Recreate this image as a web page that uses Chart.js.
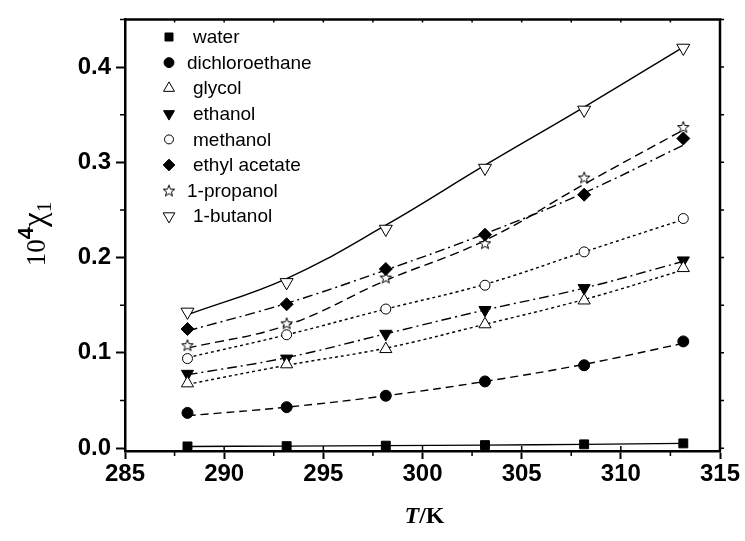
<!DOCTYPE html>
<html>
<head>
<meta charset="utf-8">
<script src="https://cdn.jsdelivr.net/npm/chart.js@4.4.1/dist/chart.umd.min.js"></script>
<style>
  html, body { margin: 0; padding: 0; background: #fff; }
  canvas { display: block; }
</style>
</head>
<body>
<canvas id="chart" width="745" height="541"></canvas>
<script>
// valores (x = T/K, y = 10^4 x1)
const temps = [288.15, 293.15, 298.15, 303.15, 308.15, 313.15];
const water = [0.0018, 0.0021, 0.0026, 0.0032, 0.0040, 0.0050];
const dichloroethane = [0.037, 0.043, 0.055, 0.070, 0.087, 0.112];
const glycol = [0.068, 0.088, 0.104, 0.130, 0.155, 0.189];
const ethanol = [0.078, 0.094, 0.120, 0.145, 0.168, 0.197];
const methanol = [0.094, 0.119, 0.146, 0.171, 0.206, 0.241];
const ethylAcetate = [0.125, 0.151, 0.188, 0.224, 0.266, 0.325];
const propanol = [0.108, 0.131, 0.179, 0.215, 0.284, 0.337];
const butanol = [0.143, 0.174, 0.230, 0.294, 0.355, 0.420];

const waterFit = [0.0018, 0.0021, 0.0026, 0.0032, 0.0040, 0.0050];
const dichloroethaneFit = [0.034, 0.043, 0.055, 0.070, 0.088, 0.110];
const glycolFit = [0.067, 0.087, 0.105, 0.130, 0.156, 0.187];
const ethanolFit = [0.077, 0.095, 0.120, 0.145, 0.168, 0.196];
const methanolFit = [0.095, 0.119, 0.146, 0.172, 0.206, 0.240];
const ethylAcetateFit = [0.123, 0.152, 0.187, 0.225, 0.268, 0.318];
const propanolFit = [0.105, 0.129, 0.176, 0.218, 0.277, 0.334];
const butanolFit = [0.140, 0.178, 0.234, 0.297, 0.358, 0.421];

const names = ['water', 'dichloroethane', 'glycol', 'ethanol', 'methanol', 'ethyl acetate', '1-propanol', '1-butanol'];
const xTicks = [285, 290, 295, 300, 305, 310, 315];
const yTicks = [0.0, 0.1, 0.2, 0.3, 0.4];

// estrela vazada (Chart.js nao tem estrela de 5 pontas)
function starImage(size) {
    const c = document.createElement('canvas');
    c.width = c.height = size;
    const g = c.getContext('2d');
    const cx = size / 2, cy = size / 2 + 0.5, R = size / 2 - 1, r = R * 0.42;
    g.beginPath();
    for (let i = 0; i < 10; i++) {
        const a = -Math.PI / 2 + i * Math.PI / 5;
        const rr = i % 2 ? r : R;
        g.lineTo(cx + rr * Math.cos(a), cy + rr * Math.sin(a));
    }
    g.closePath();
    g.fillStyle = '#fff';
    g.fill();
    g.strokeStyle = '#000';
    g.lineWidth = 1;
    g.stroke();
    return c;
}
const star = starImage(14);

const series = [water, dichloroethane, glycol, ethanol, methanol, ethylAcetate, propanol, butanol];
const fits = [waterFit, dichloroethaneFit, glycolFit, ethanolFit, methanolFit, ethylAcetateFit, propanolFit, butanolFit];
const estilos = [
    { style: 'rect', r: 6.3, rot: 0, fill: '#000', dash: [] },
    { style: 'circle', r: 5.5, rot: 0, fill: '#000', dash: [8, 5] },
    { style: 'triangle', r: 7, rot: 0, fill: '#fff', dash: [3, 3] },
    { style: 'triangle', r: 7, rot: 180, fill: '#000', dash: [10, 4, 2, 4] },
    { style: 'circle', r: 5, rot: 0, fill: '#fff', dash: [3, 3] },
    { style: 'rectRot', r: 6.5, rot: 0, fill: '#000', dash: [10, 4, 2, 4] },
    { style: star, r: 7, rot: 0, fill: '#fff', dash: [9, 5] },
    { style: 'triangle', r: 7.5, rot: 180, fill: '#fff', dash: [] }
];

const pontos = series.map((vals, i) => {
    const e = estilos[i];
    return {
        label: names[i],
        data: temps.map((t, k) => ({ x: t, y: vals[k] })),
        showLine: false,
        order: 0,
        pointStyle: e.style,
        pointRadius: e.r,
        pointHoverRadius: e.r,
        pointRotation: e.rot,
        pointBackgroundColor: e.fill,
        pointBorderColor: '#000',
        pointBorderWidth: 1
    };
});

const curvas = fits.map((vals, i) => ({
    label: names[i] + ' fit',
    data: temps.map((t, k) => ({ x: t, y: vals[k] })),
    order: 1,
    borderColor: '#000',
    borderWidth: 1.4,
    borderDash: estilos[i].dash,
    tension: 0.4,
    fill: false,
    pointRadius: 0,
    pointHoverRadius: 0
}));

// moldura, ticks menores, legenda e titulos dos eixos
const decor = {
    id: 'decor',
    afterDraw(chart) {
        const { ctx, chartArea: a, scales: { x, y } } = chart;
        ctx.save();
        ctx.strokeStyle = '#000';
        ctx.fillStyle = '#000';

        ctx.lineWidth = 2.5;
        ctx.beginPath();
        ctx.moveTo(a.left, a.top);
        ctx.lineTo(a.right, a.top);
        ctx.lineTo(a.right, a.bottom);
        ctx.stroke();

        ctx.lineWidth = 1.5;
        ctx.beginPath();
        for (let v = 0.05; v < 0.45; v += 0.1) {
            const py = y.getPixelForValue(v);
            ctx.moveTo(a.left, py); ctx.lineTo(a.left - 5, py);
        }
        for (let v = 0; v < 0.45; v += 0.05) {
            const py = y.getPixelForValue(v);
            ctx.moveTo(a.right, py); ctx.lineTo(a.right + 4, py);
        }
        for (let t = 287.5; t < 315; t += 5) {
            const px = x.getPixelForValue(t);
            ctx.moveTo(px, a.bottom); ctx.lineTo(px, a.bottom + 5);
        }
        for (let t = 287.5; t < 315; t += 2.5) {
            const px = x.getPixelForValue(t);
            ctx.moveTo(px, a.top); ctx.lineTo(px, a.top + 3);
        }
        xTicks.forEach(t => {
            const px = x.getPixelForValue(t);
            ctx.moveTo(px, a.bottom); ctx.lineTo(px, a.bottom - 5);
        });
        ctx.stroke();

        // legenda dentro da area do grafico (so os marcadores)
        ctx.textBaseline = 'middle';
        ctx.textAlign = 'left';
        pontos.forEach((ds, i) => {
            const ly = 37 + i * 25.6;
            ctx.setLineDash([]);
            ctx.fillStyle = ds.pointBackgroundColor;
            ctx.strokeStyle = '#000';
            ctx.lineWidth = 1;
            Chart.helpers.drawPoint(ctx, {
                pointStyle: ds.pointStyle,
                radius: ds.pointRadius * 0.9,
                rotation: ds.pointRotation,
                borderWidth: 1
            }, 169, ly);
            ctx.fillStyle = '#000';
            ctx.font = '19px "Liberation Sans", Arial, sans-serif';
            const indent = (ds.label === 'dichloroethane' || ds.label === '1-propanol') ? 0 : 6;
            ctx.fillText(ds.label, 187 + indent, ly + 1);
        });

        // titulo do eixo x: T/K
        ctx.textBaseline = 'alphabetic';
        const f1 = 'italic bold 24px "Liberation Serif", "Times New Roman", serif';
        const f2 = 'bold 24px "Liberation Serif", "Times New Roman", serif';
        ctx.font = f1; const wT = ctx.measureText('T').width;
        ctx.font = f2; const wK = ctx.measureText('/K').width;
        let sx = (a.left + a.right) / 2 + 2 - (wT + wK) / 2;
        ctx.font = f1; ctx.fillText('T', sx, 523);
        ctx.font = f2; ctx.fillText('/K', sx + wT, 523);

        // titulo do eixo y: 10^4 x1
        ctx.translate(36, 234);
        ctx.rotate(-Math.PI / 2);
        const partes = [
            { t: '10', f: '27px "Liberation Serif", "Times New Roman", serif', dy: 0 },
            { t: '4', f: 'bold 22px "Liberation Sans", Arial, sans-serif', dy: -12 },
            { t: 'χ', f: '33px "Liberation Serif", "Times New Roman", serif', dy: 0 },
            { t: '1', f: '21px "Liberation Serif", "Times New Roman", serif', dy: 6 }
        ];
        let total = 0;
        partes.forEach(p => { ctx.font = p.f; p.w = ctx.measureText(p.t).width; total += p.w; });
        let cx = -total / 2;
        partes.forEach(p => {
            ctx.font = p.f;
            ctx.fillText(p.t, cx, 9 + p.dy);
            cx += p.w;
        });
        ctx.restore();
    }
};

new Chart(document.getElementById('chart'), {
    type: 'line',
    data: { datasets: [...pontos, ...curvas] },
    options: {
        responsive: false,
        animation: false,
        layout: { padding: { top: 12, right: 25, left: 0, bottom: 0 } },
        plugins: {
            legend: { display: false },
            tooltip: { enabled: false }
        },
        scales: {
            x: {
                type: 'linear',
                min: 285,
                max: 315,
                afterBuildTicks: s => { s.ticks = xTicks.map(v => ({ value: v })); },
                afterFit: s => { s.height = 90; },
                grid: { drawOnChartArea: false, drawTicks: true, tickLength: 8, tickWidth: 2, tickColor: '#000' },
                border: { display: true, color: '#000', width: 2.5 },
                ticks: {
                    color: '#000',
                    autoSkip: false,
                    maxRotation: 0,
                    padding: 1,
                    font: { family: '"Liberation Sans", Arial, sans-serif', size: 24, weight: 'bold' }
                }
            },
            y: {
                type: 'linear',
                min: -0.003,
                max: 0.45,
                afterBuildTicks: s => { s.ticks = yTicks.map(v => ({ value: v })); },
                afterFit: s => { s.width = 125; },
                grid: { drawOnChartArea: false, drawTicks: true, tickLength: 9, tickWidth: 2, tickColor: '#000' },
                border: { display: true, color: '#000', width: 2.5 },
                ticks: {
                    color: '#000',
                    padding: 5,
                    callback: v => v.toFixed(1),
                    font: { family: '"Liberation Sans", Arial, sans-serif', size: 24, weight: 'bold' }
                }
            }
        }
    },
    plugins: [decor]
});
</script>
</body>
</html>
